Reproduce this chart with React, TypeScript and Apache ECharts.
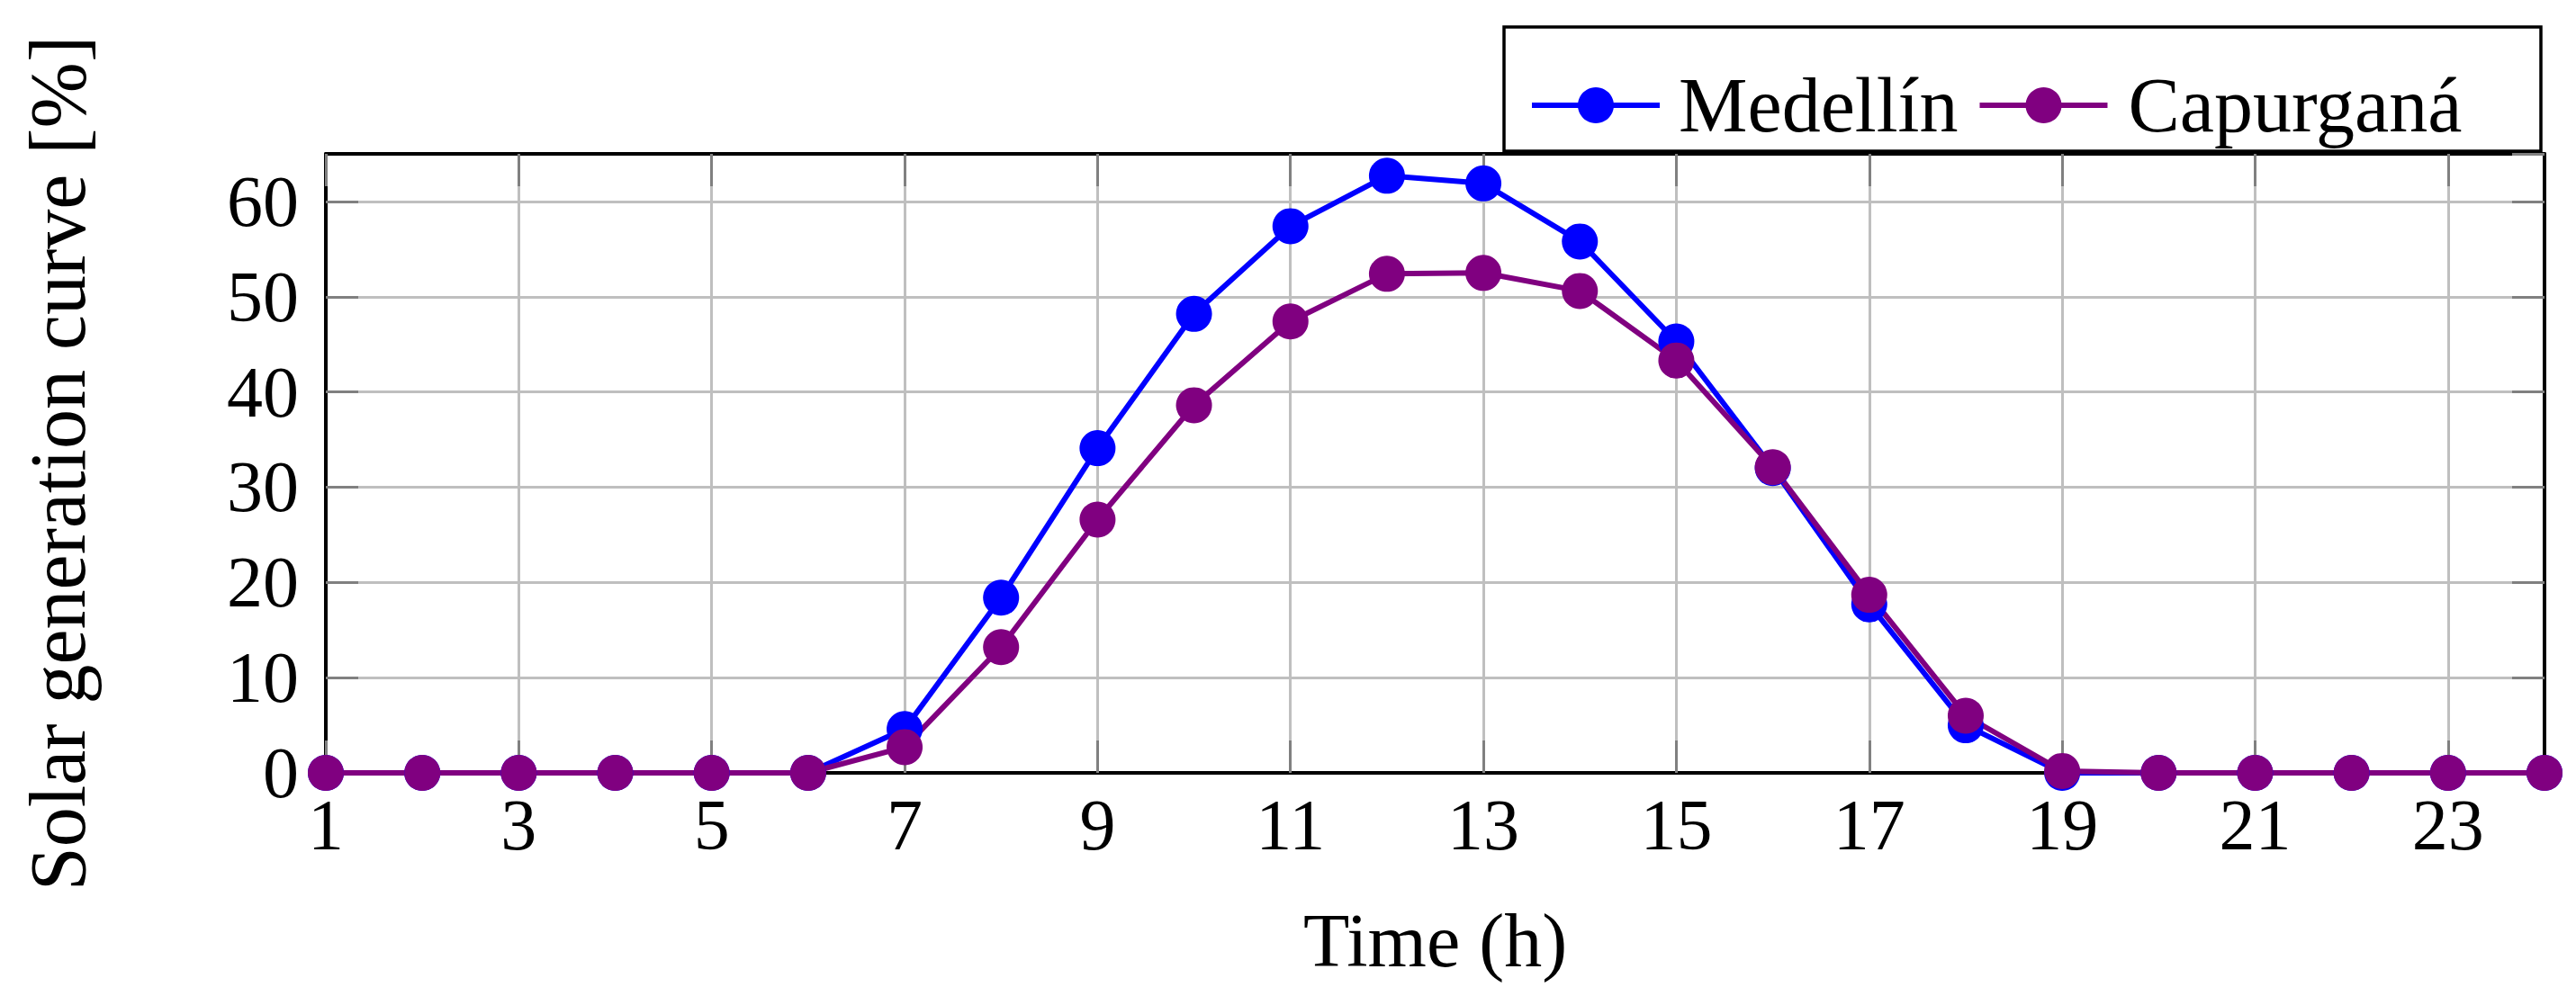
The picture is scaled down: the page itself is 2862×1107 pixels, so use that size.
import { useEffect, useRef } from "react";
import * as echarts from "echarts";

const hours = [
  "1", "2", "3", "4", "5", "6", "7", "8", "9", "10", "11", "12",
  "13", "14", "15", "16", "17", "18", "19", "20", "21", "22", "23", "24",
];
// Solar generation curve [%] per hour
const medellin = [
  0, 0, 0, 0, 0, 0, 4.6, 18.4, 34.1, 48.2, 57.4, 62.7,
  61.9, 55.8, 45.3, 32.0, 17.7, 5.0, 0, 0, 0, 0, 0, 0,
];
const capurgana = [
  0, 0, 0, 0, 0, 0, 2.7, 13.2, 26.6, 38.6, 47.4, 52.4,
  52.5, 50.6, 43.3, 32.1, 18.7, 6.0, 0.2, 0, 0, 0, 0, 0,
];
const seriesNames = ["Medellín", "Capurganá"];
const seriesColors = ["#0000ff", "#800080"];

const FONT = "Liberation Serif";

const App = () => {
  const chartRef = useRef<HTMLDivElement | null>(null);

  useEffect(() => {
    if (!chartRef.current) return;
    const chart = echarts.init(chartRef.current, undefined, { renderer: "svg" });

    const frame = { color: "#000", width: 4 };
    const tick = { show: true, inside: true, length: 36, lineStyle: { color: "#808080", width: 3 } };

    const option = {
      animation: false,
      backgroundColor: "#fff",
      textStyle: { fontFamily: FONT },
      grid: { left: 362, right: 35, top: 171, bottom: 248, containLabel: false },
      graphic: [
        {
          type: "rect",
          z: 0,
          shape: { x: 1671, y: 30, width: 1152, height: 138 },
          style: { fill: "#fff", stroke: "#000", lineWidth: 3.5 },
        },
      ],
      legend: {
        z: 10,
        left: 1699,
        top: 74,
        padding: 0,
        itemWidth: 142,
        itemHeight: 50,
        itemGap: 21,
        data: seriesNames,
        lineStyle: { width: 6 },
        textStyle: {
          fontFamily: FONT,
          fontSize: 86,
          color: "#000",
          rich: {
            m: { fontFamily: FONT, fontSize: 86, width: 349, padding: [0, 0, 0, 16] },
            c: { fontFamily: FONT, fontSize: 86, width: 423, padding: [0, 0, 0, 18] },
          },
        },
        formatter: (name: string) => (name === seriesNames[0] ? `{m|${name}}` : `{c|${name}}`),
      },
      xAxis: [
        {
          type: "category",
          data: hours,
          boundaryGap: false,
          position: "bottom",
          axisLine: { onZero: false, lineStyle: frame },
          axisTick: { ...tick, interval: 1 },
          axisLabel: { interval: 1, margin: 18, fontSize: 80, color: "#000", fontFamily: FONT },
          splitLine: { show: true, interval: 1, lineStyle: { color: "#bfbfbf", width: 3 } },
          name: "Time (h)",
          nameLocation: "middle",
          nameGap: 144,
          nameTextStyle: { fontSize: 84, color: "#000", fontFamily: FONT },
        },
        {
          type: "category",
          data: hours,
          boundaryGap: false,
          position: "top",
          axisLine: { onZero: false, lineStyle: frame },
          axisTick: { ...tick, interval: 1 },
          axisLabel: { show: false },
          splitLine: { show: false },
        },
      ],
      yAxis: [
        {
          type: "value",
          min: 0,
          max: 65,
          interval: 10,
          position: "left",
          axisLine: { show: true, onZero: false, lineStyle: frame },
          axisTick: tick,
          axisLabel: { margin: 30, fontSize: 80, color: "#000", fontFamily: FONT, showMaxLabel: false },
          splitLine: { show: true, lineStyle: { color: "#bfbfbf", width: 3 } },
          name: "Solar generation curve [%]",
          nameLocation: "middle",
          nameRotate: 90,
          nameGap: 254,
          nameTextStyle: { fontSize: 88, color: "#000", fontFamily: FONT },
        },
        {
          type: "value",
          min: 0,
          max: 65,
          interval: 10,
          position: "right",
          axisLine: { show: true, onZero: false, lineStyle: frame },
          axisTick: tick,
          axisLabel: { show: false },
          splitLine: { show: false },
        },
      ],
      series: [
        {
          name: seriesNames[0],
          type: "line",
          xAxisIndex: 0,
          yAxisIndex: 0,
          data: medellin,
          symbol: "circle",
          symbolSize: 40,
          color: seriesColors[0],
          lineStyle: { width: 6, color: seriesColors[0] },
          itemStyle: { color: seriesColors[0] },
        },
        {
          name: seriesNames[1],
          type: "line",
          xAxisIndex: 0,
          yAxisIndex: 0,
          data: capurgana,
          symbol: "circle",
          symbolSize: 40,
          color: seriesColors[1],
          lineStyle: { width: 6, color: seriesColors[1] },
          itemStyle: { color: seriesColors[1] },
        },
      ],
    };

    chart.setOption(option);
    return () => {
      chart.dispose();
    };
  }, []);

  return (
    <div
      ref={chartRef}
      style={{ position: "absolute", left: 0, top: 0, width: 2862, height: 1107 }}
    />
  );
};

export default App;
